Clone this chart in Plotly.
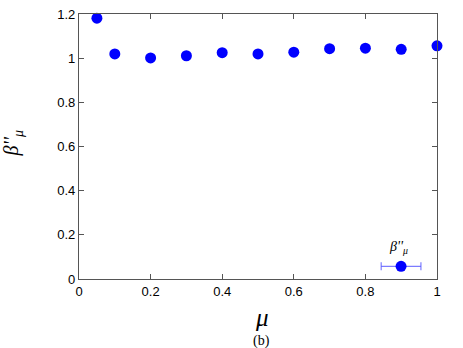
import plotly.graph_objs as go

# values
mu = [0.05, 0.1, 0.2, 0.3, 0.4, 0.5, 0.6, 0.7, 0.8, 0.9, 1.0]
beta = [1.181, 1.019, 1.001, 1.011, 1.025, 1.019, 1.027, 1.043, 1.045, 1.040, 1.056]

x_ticks = [0, 0.2, 0.4, 0.6, 0.8, 1]
x_labels = ['0', '0.2', '0.4', '0.6', '0.8', '1']
y_ticks = [0, 0.2, 0.4, 0.6, 0.8, 1, 1.2]
y_labels = ['0', '0.2', '0.4', '0.6', '0.8', '1', '1.2']

blue = '#0000ff'
axis_col = '#555555'

fig = go.Figure()

fig.add_trace(go.Scatter(
    x=mu,
    y=beta,
    mode='markers',
    marker=dict(size=11, color=blue),
    cliponaxis=False,
    showlegend=False
))

axis_common = dict(
    showline=True,
    linecolor=axis_col,
    linewidth=1.2,
    mirror='ticks',
    ticks='inside',
    ticklen=5,
    tickcolor=axis_col,
    showgrid=False,
    zeroline=False,
    automargin=False,
    tickfont=dict(family='Liberation Sans, Arial', size=13, color='black'),
)

fig.update_xaxes(range=[0, 1], tickvals=x_ticks, ticktext=x_labels, **axis_common)
fig.update_yaxes(range=[0, 1.2], tickvals=y_ticks, ticktext=y_labels, **axis_common)

# legend key (gnuplot style, bottom right)
key_x, key_y = 0.8996, 0.048
half_w = 0.0555
cap = 4
err_col = 'rgba(80,80,255,0.75)'
shapes = [
    dict(type='line', xref='paper', yref='paper', x0=key_x - half_w, x1=key_x + half_w,
         y0=key_y, y1=key_y, line=dict(color=err_col, width=1.2)),
    dict(type='line', xref='paper', yref='paper', ysizemode='pixel', yanchor=key_y,
         x0=key_x - half_w, x1=key_x - half_w, y0=-cap, y1=cap, line=dict(color=err_col, width=1.2)),
    dict(type='line', xref='paper', yref='paper', ysizemode='pixel', yanchor=key_y,
         x0=key_x + half_w, x1=key_x + half_w, y0=-cap, y1=cap, line=dict(color=err_col, width=1.2)),
    dict(type='circle', xref='paper', yref='paper', xsizemode='pixel', ysizemode='pixel',
         xanchor=key_x, yanchor=key_y, x0=-5.5, x1=5.5, y0=-5.5, y1=5.5,
         fillcolor=blue, line=dict(color=blue, width=0)),
]

serif = 'Liberation Serif, Times New Roman, serif'
annotations = [
    dict(text="<i>β''</i><sub><i>μ</i></sub>", xref='paper', yref='paper', x=0.925, y=0.08,
         showarrow=False, font=dict(family=serif, size=14, color='black')),
    dict(text="<i>β''</i><sub><i>μ</i></sub>", xref='paper', yref='paper', x=-0.225, y=0.515,
         textangle=-90, showarrow=False, font=dict(family=serif, size=20, color='black')),
    dict(text='<i>μ</i>', xref='paper', yref='paper', x=0.51, y=-0.205,
         showarrow=False, font=dict(family=serif, size=25, color='black')),
    dict(text='(b)', xref='paper', yref='paper', x=0.51, y=-0.272,
         showarrow=False, font=dict(family=serif, size=14, color='black')),
]

fig.update_layout(
    width=463,
    height=348,
    margin=dict(l=79, r=26, t=14, b=69),
    paper_bgcolor='white',
    plot_bgcolor='white',
    showlegend=False,
    shapes=shapes,
    annotations=annotations,
)

fig.write_html("out.html", config={'displayModeBar': False},
               post_script="document.body.style.margin='0';")
